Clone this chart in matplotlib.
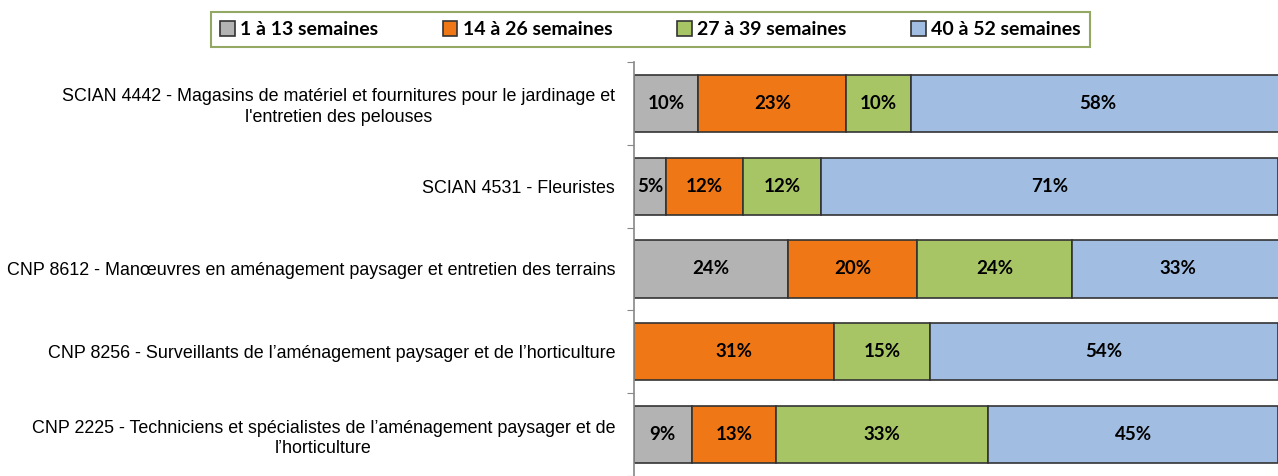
import matplotlib.pyplot as plt
import numpy as np

categories = [
    "SCIAN 4442 - Magasins de matériel et fournitures pour le jardinage et\nl'entretien des pelouses",
    "SCIAN 4531 - Fleuristes",
    "CNP 8612 - Manœuvres en aménagement paysager et entretien des terrains",
    "CNP 8256 - Surveillants de l’aménagement paysager et de l’horticulture",
    "CNP 2225 - Techniciens et spécialistes de l’aménagement paysager et de\nl’horticulture",
]
series_names = ["1 à 13 semaines", "14 à 26 semaines", "27 à 39 semaines", "40 à 52 semaines"]
s1 = [10, 5, 24, 0, 9]
s2 = [23, 12, 20, 31, 13]
s3 = [10, 12, 24, 15, 33]
s4 = [58, 71, 33, 54, 45]
colors = ["#B3B3B3", "#EF7715", "#A8C565", "#A1BDE1"]

plt.rcParams['font.family'] = ['Liberation Sans', 'DejaVu Sans']
label_font = ['Lato', 'DejaVu Sans']

fig = plt.figure(figsize=(12.78, 4.76), dpi=100)
ax = fig.add_axes([0.496, 0.0, 0.504, 0.870])

y = np.arange(len(categories))
left = np.zeros(len(categories))
handles = []
for vals, name, c in zip([s1, s2, s3, s4], series_names, colors):
    vals = np.array(vals, dtype=float)
    bars = ax.barh(y, vals, left=left, height=0.69, color=c, edgecolor="#333333",
                   linewidth=1.2, label=name)
    handles.append(bars)
    for yi, l, v in zip(y, left, vals):
        if v > 0:
            ax.text(l + v / 2, yi, f"{int(v)}%", ha="center", va="center",
                    fontsize=13.5, fontweight="bold", family=label_font)
    left += vals

ax.set_xlim(0, 100)
ax.set_ylim(len(categories) - 0.5, -0.5)
ax.set_yticks(np.arange(len(categories) + 1) - 0.5)
ax.set_yticklabels([])
ax.set_yticks(y, minor=True)
ax.set_yticklabels(categories, minor=True, fontsize=12.9, multialignment="center",
                   linespacing=1.3)
ax.tick_params(axis="y", which="minor", length=0, pad=13.5)
ax.tick_params(axis="y", which="major", length=5, color="#888888", direction="out")
ax.set_xticks([])
for s in ["top", "right", "bottom"]:
    ax.spines[s].set_visible(False)
ax.spines["left"].set_color("#888888")
ax.spines["left"].set_linewidth(1.2)

leg = fig.legend(handles=handles, labels=series_names, loc="center",
                 bbox_to_anchor=(0.509, 0.938), ncol=4, frameon=True,
                 fancybox=False, edgecolor="#77933C", handlelength=0.75,
                 handleheight=0.85, handletextpad=0.3, columnspacing=3.3,
                 borderpad=0.45, prop={'family': label_font, 'weight': 'bold', 'size': 14})
leg.get_frame().set_linewidth(1.5)
for h in leg.legend_handles:
    h.set_edgecolor("#333333")

fig.savefig("out.png", dpi=100)
